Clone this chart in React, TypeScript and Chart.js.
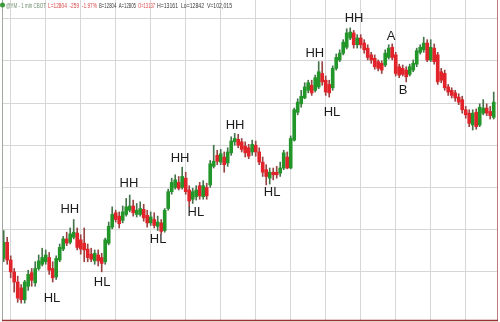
import { useEffect, useRef } from "react";
import { Chart, registerables } from "chart.js";

Chart.register(...registerables);

// One-minute bars, oldest first.
const opens = [
  12866, 12885, 12864, 12850, 12838, 12831, 12817, 12833, 12849, 12837,
  12854, 12859, 12862, 12867, 12854, 12844, 12864, 12877, 12889, 12885,
  12891, 12896, 12888, 12884, 12877, 12871, 12863, 12870, 12867, 12862,
  12884, 12903, 12920, 12916, 12911, 12918, 12923, 12928, 12918, 12918,
  12924, 12917, 12908, 12912, 12904, 12908, 12899, 12925, 12945, 12950,
  12956, 12950, 12961, 12947, 12936, 12939, 12952, 12939, 12950, 12953,
  12975, 12988, 12980, 12986, 12979, 12991, 13004, 13007, 13004, 12999,
  12997, 12992, 13000, 12992, 12980, 12971, 12961, 12968, 12968, 12967,
  12973, 12986, 12973, 13006, 13039, 13049, 13056, 13065, 13071, 13065,
  13069, 13085, 13077, 13072, 13068, 13091, 13101, 13109, 13116, 13127,
  13133, 13119, 13127, 13121, 13115, 13107, 13103, 13099, 13097, 13095,
  13104, 13116, 13107, 13093, 13091, 13089, 13084, 13089, 13096, 13110,
  13113, 13121, 13101, 13115, 13107, 13087, 13085, 13069, 13065, 13062,
  13057, 13054, 13042, 13038, 13024, 13039, 13024, 13038, 13044, 13040,
  13033,
];
const highs = [
  12899, 12891, 12869, 12854, 12845, 12835, 12840, 12852, 12854, 12862,
  12870, 12878, 12876, 12873, 12862, 12869, 12883, 12892, 12897, 12902,
  12912, 12902, 12894, 12902, 12883, 12878, 12876, 12876, 12872, 12890,
  12909, 12927, 12923, 12921, 12928, 12937, 12941, 12935, 12931, 12933,
  12930, 12923, 12921, 12920, 12916, 12912, 12925, 12948, 12961, 12965,
  12963, 12974, 12968, 12952, 12949, 12952, 12956, 12958, 12955, 12982,
  13000, 12994, 12995, 12992, 12997, 13010, 13014, 13013, 13008, 13004,
  13001, 13006, 13005, 12997, 12986, 12977, 12973, 12973, 12975, 12980,
  12994, 12992, 13011, 13044, 13055, 13065, 13074, 13077, 13077, 13083,
  13099, 13099, 13082, 13077, 13094, 13108, 13113, 13125, 13138, 13139,
  13136, 13131, 13131, 13125, 13119, 13110, 13107, 13101, 13100, 13113,
  13119, 13120, 13110, 13096, 13095, 13093, 13096, 13101, 13115, 13119,
  13128, 13125, 13125, 13120, 13110, 13091, 13089, 13072, 13068, 13065,
  13061, 13058, 13046, 13042, 13042, 13043, 13049, 13054, 13049, 13046,
  13063,
];
const lows = [
  12862, 12859, 12843, 12826, 12814, 12813, 12813, 12828, 12833, 12833,
  12852, 12857, 12859, 12847, 12838, 12841, 12862, 12875, 12881, 12883,
  12889, 12876, 12871, 12862, 12862, 12862, 12859, 12857, 12850, 12859,
  12882, 12901, 12909, 12902, 12908, 12916, 12921, 12916, 12915, 12916,
  12910, 12903, 12905, 12902, 12899, 12895, 12897, 12923, 12942, 12948,
  12947, 12948, 12942, 12927, 12931, 12935, 12936, 12936, 12936, 12950,
  12973, 12977, 12977, 12968, 12975, 12988, 13000, 12997, 12992, 12986,
  12984, 12988, 12987, 12977, 12963, 12953, 12954, 12959, 12961, 12963,
  12971, 12972, 12972, 13005, 13036, 13045, 13055, 13062, 13059, 13063,
  13067, 13071, 13059, 13057, 13065, 13089, 13099, 13107, 13114, 13125,
  13115, 13115, 13115, 13109, 13101, 13097, 13090, 13088, 13085, 13093,
  13102, 13101, 13082, 13080, 13082, 13075, 13082, 13087, 13093, 13108,
  13110, 13099, 13099, 13096, 13072, 13074, 13065, 13059, 13056, 13052,
  13048, 13038, 13032, 13022, 13018, 13019, 13022, 13036, 13035, 13031,
  13031,
];
const closes = [
  12885, 12864, 12850, 12838, 12819, 12817, 12838, 12847, 12840, 12854,
  12863, 12867, 12870, 12852, 12843, 12866, 12879, 12889, 12884, 12895,
  12897, 12879, 12877, 12876, 12867, 12865, 12872, 12863, 12860, 12888,
  12904, 12918, 12912, 12907, 12921, 12927, 12928, 12920, 12923, 12925,
  12914, 12908, 12915, 12905, 12909, 12898, 12923, 12945, 12956, 12959,
  12949, 12963, 12945, 12934, 12945, 12947, 12940, 12952, 12940, 12978,
  12981, 12981, 12990, 12977, 12992, 13005, 13008, 13000, 12995, 12991,
  12987, 13001, 12992, 12980, 12968, 12963, 12968, 12965, 12965, 12973,
  12991, 12973, 13008, 13042, 13051, 13058, 13069, 13074, 13062, 13080,
  13087, 13075, 13063, 13062, 13091, 13104, 13109, 13122, 13133, 13134,
  13119, 13127, 13119, 13113, 13104, 13101, 13093, 13091, 13089, 13109,
  13115, 13104, 13085, 13083, 13084, 13081, 13093, 13097, 13112, 13116,
  13121, 13101, 13116, 13099, 13075, 13077, 13068, 13063, 13059, 13056,
  13051, 13042, 13036, 13026, 13038, 13022, 13045, 13044, 13038, 13035,
  13051,
];

// Swing annotations: text, bar position and price level.
const swingText = ["HL", "HH", "HL", "HH", "HL", "HH", "HL", "HH", "HL", "HH", "HL", "HH", "A", "B"];
const swingBar = [13.8, 18.9, 28.1, 35.8, 44.1, 50.4, 54.9, 66.1, 76.7, 88.9, 93.8, 100.1, 110.7, 114.1];
const swingPrice = [12819, 12924, 12838, 12955, 12889, 12984, 12920, 13024, 12944, 13109, 13039, 13150, 13129, 13065];

// Grid levels.
const gridPrices = [12850, 12900, 12950, 13000, 13050, 13100, 13150];
const gridBars = [2, 12, 22, 32, 42, 52, 62, 72, 82, 92, 102, 112, 122, 132];

// Quote line.
const headerText = ["@YM - 1 min CBOT", "L=12804  -259  -1.97%", "B=12804  A=12805", "O=13137", "H=13161  Lo=12842  V=102,015"];
const headerColor = ["#6f8f6f", "#d84848", "#3a3a3a", "#d84848", "#3a3a3a"];
const headerX = [6, 48, 99, 138, 157];
const headerEnd = 234;

const UP = "#23962a";
const DOWN = "#e2232a";
const UP_WICK = "#45744a";
const DOWN_WICK = "#994242";

const isUp = (i: number) => closes[i] >= opens[i];

const overlay = {
  id: "overlay",
  afterDatasetsDraw(chart: Chart) {
    const { ctx, chartArea, scales } = chart;
    const x = scales.x;
    const y = scales.y;
    ctx.save();

    // frame
    ctx.lineWidth = 1;
    ctx.strokeStyle = "#a0a8a0";
    ctx.beginPath();
    ctx.moveTo(chartArea.left - 0.5, 0);
    ctx.lineTo(chartArea.left - 0.5, chartArea.bottom);
    ctx.stroke();
    ctx.strokeStyle = "#c07a7a";
    ctx.beginPath();
    ctx.moveTo(chartArea.right + 0.5, 0);
    ctx.lineTo(chartArea.right + 0.5, chartArea.bottom + 1);
    ctx.stroke();
    ctx.strokeStyle = "#9a3434";
    ctx.lineWidth = 1.5;
    ctx.beginPath();
    ctx.moveTo(chartArea.left - 1, chartArea.bottom + 0.5);
    ctx.lineTo(chartArea.right + 1, chartArea.bottom + 0.5);
    ctx.stroke();

    // symbol icon
    ctx.fillStyle = "#3c9a3c";
    ctx.beginPath();
    ctx.arc(2.5, 5, 2.5, 0, Math.PI * 2);
    ctx.fill();

    // quote line
    ctx.font = "6.5px 'Liberation Sans', Arial, sans-serif";
    ctx.textBaseline = "middle";
    ctx.textAlign = "left";
    headerText.forEach((t, i) => {
      const next = i + 1 < headerX.length ? headerX[i + 1] : headerEnd;
      ctx.fillStyle = headerColor[i];
      ctx.fillText(t, headerX[i], 6, next - headerX[i] - 2);
    });

    // swing labels
    ctx.font = "13px 'Liberation Sans', Arial, sans-serif";
    ctx.fillStyle = "#1c1c1c";
    ctx.textAlign = "center";
    ctx.textBaseline = "middle";
    swingText.forEach((t, i) => {
      ctx.fillText(t, x.getPixelForValue(swingBar[i]), y.getPixelForValue(swingPrice[i]));
    });
    ctx.restore();
  },
};

export default function App() {
  const canvasRef = useRef<HTMLCanvasElement | null>(null);

  useEffect(() => {
    const canvas = canvasRef.current;
    if (!canvas) return;
    const idx = opens.map((_, i) => i);
    const chart = new Chart(canvas, {
      type: "bar",
      data: {
        datasets: [
          {
            label: "body",
            data: idx.map((i) => ({ x: i, y: [opens[i], closes[i]] })) as any,
            backgroundColor: idx.map((i) => (isUp(i) ? UP : DOWN)),
            barThickness: 3,
            minBarLength: 1,
            grouped: false,
            borderWidth: 0,
            order: 0,
          },
          {
            label: "range",
            data: idx.map((i) => ({ x: i, y: [lows[i], highs[i]] })) as any,
            backgroundColor: idx.map((i) => (isUp(i) ? UP_WICK : DOWN_WICK)),
            barThickness: 1,
            grouped: false,
            borderWidth: 0,
            order: 1,
          },
        ],
      },
      options: {
        responsive: false,
        animation: false,
        devicePixelRatio: 1,
        layout: { padding: { left: 3, right: 3, top: 0, bottom: 2 } },
        plugins: { legend: { display: false }, tooltip: { enabled: false } },
        scales: {
          x: {
            type: "linear",
            offset: false,
            min: -0.2,
            max: 140.94,
            ticks: { display: false },
            grid: { color: "#d6d6d6", drawTicks: false, lineWidth: 1, offset: false },
            border: { display: false },
            afterBuildTicks: (s: any) => {
              s.ticks = gridBars.map((v) => ({ value: v }));
            },
          },
          y: {
            type: "linear",
            min: 12793,
            max: 13172,
            ticks: { display: false },
            grid: { color: "#d6d6d6", drawTicks: false, lineWidth: 1 },
            border: { display: false },
            afterBuildTicks: (s: any) => {
              s.ticks = gridPrices.map((v) => ({ value: v }));
            },
          },
        },
      },
      plugins: [overlay],
    });
    return () => chart.destroy();
  }, []);

  return (
    <div style={{ position: "absolute", left: 0, top: 0, width: 500, height: 322, background: "#fff" }}>
      <canvas ref={canvasRef} width={500} height={322} style={{ display: "block" }} />
    </div>
  );
}
